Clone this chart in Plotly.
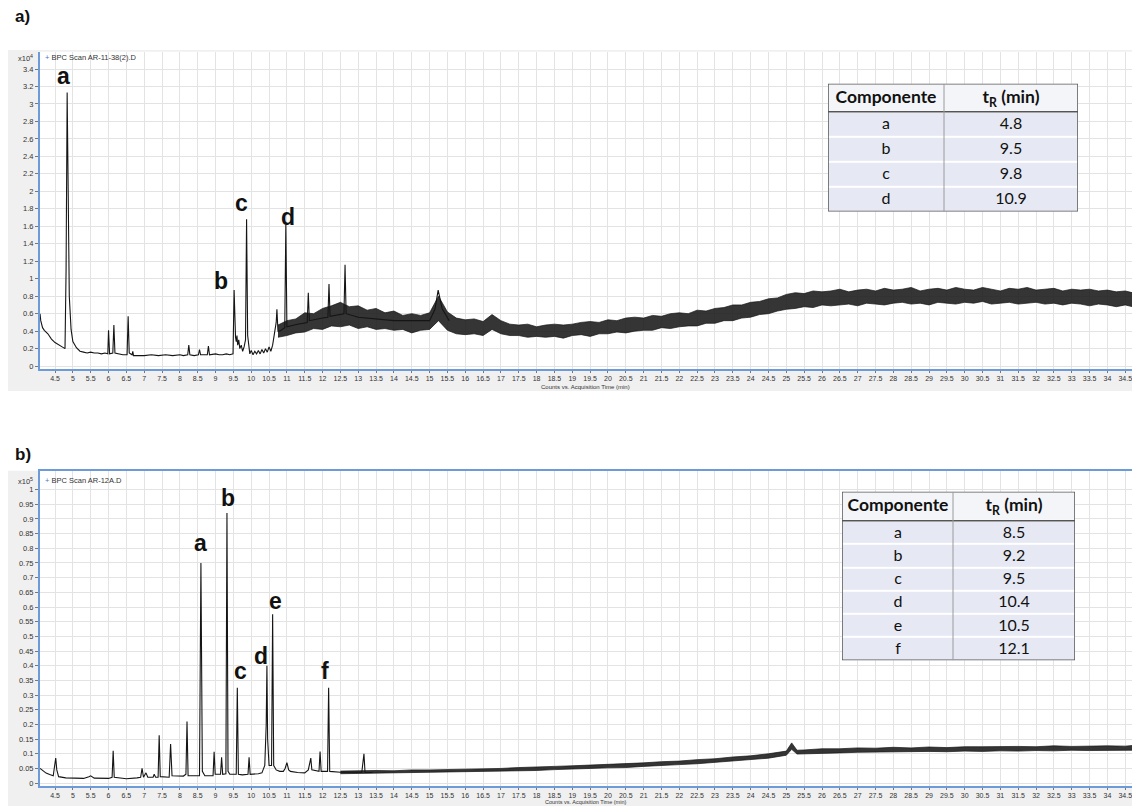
import plotly.graph_objects as go

W, H = 1132, 808

# ---------------- Panel a) chromatogram (x10^4 counts) ----------------
a_time = [4.08, 4.1, 4.15, 4.2, 4.3, 4.4, 4.5, 4.6, 4.7, 4.78, 4.81, 4.84, 4.87, 4.9, 4.95,
          5.0, 5.1, 5.2, 5.3, 5.4, 5.5, 5.6, 5.7, 5.8, 5.9, 5.98, 6.0, 6.03, 6.12, 6.15,
          6.18, 6.3, 6.4, 6.52, 6.55, 6.58, 6.66, 6.68, 6.7, 6.8, 7.0, 7.2, 7.4, 7.6, 7.8,
          8.0, 8.1, 8.22, 8.25, 8.28, 8.4, 8.52, 8.55, 8.58, 8.7, 8.77, 8.8, 8.83, 9.0, 9.1,
          9.2, 9.3, 9.4, 9.49, 9.52, 9.54, 9.56, 9.58, 9.6, 9.62, 9.65, 9.68, 9.72, 9.76, 9.8,
          9.84, 9.87, 9.9, 9.93, 9.96, 10.0, 10.05, 10.1, 10.15, 10.2, 10.25, 10.3, 10.35, 10.4, 10.45,
          10.5, 10.55, 10.6, 10.65, 10.7, 10.72, 10.75, 10.8, 10.94, 10.97, 11.0, 11.3, 11.57, 11.6, 11.63,
          12.0, 12.15, 12.18, 12.21, 12.6, 12.63, 12.66, 13.0, 14.0, 15.0, 15.15, 15.24, 15.35, 15.55]
a_signal = [0.60, 0.52, 0.44, 0.41, 0.37, 0.31, 0.27, 0.24, 0.22, 0.20, 1.10, 3.13, 1.50, 0.80, 0.42,
            0.28, 0.21, 0.17, 0.16, 0.15, 0.16, 0.15, 0.15, 0.14, 0.15, 0.14, 0.41, 0.14, 0.15, 0.47,
            0.15, 0.14, 0.13, 0.13, 0.57, 0.15, 0.13, 0.17, 0.12, 0.12, 0.12, 0.13, 0.12, 0.13, 0.12,
            0.13, 0.12, 0.13, 0.24, 0.13, 0.12, 0.13, 0.19, 0.13, 0.13, 0.13, 0.23, 0.13, 0.14, 0.13,
            0.13, 0.14, 0.13, 0.14, 0.87, 0.40, 0.33, 0.28, 0.35, 0.24, 0.30, 0.20, 0.24, 0.17, 0.22,
            0.30, 1.68, 0.35, 0.20, 0.14, 0.18, 0.13, 0.17, 0.14, 0.18, 0.14, 0.19, 0.15, 0.20, 0.16,
            0.22, 0.17, 0.24, 0.35, 0.50, 0.65, 0.40, 0.40, 0.44, 1.62, 0.45, 0.48, 0.50, 0.84, 0.52,
            0.55, 0.56, 0.94, 0.57, 0.60, 1.16, 0.60, 0.56, 0.52, 0.52, 0.65, 0.87, 0.66, 0.52]

a_band_time = [10.75, 11.0, 11.25, 11.5, 11.75, 12.0, 12.25, 12.5, 12.75, 13.0, 13.25, 13.5, 13.75, 14.0,
               14.25, 14.5, 14.75, 15.0, 15.25, 15.5, 15.75, 16.0, 16.25, 16.5, 16.75, 17.0, 17.25, 17.5,
               17.75, 18.0, 18.25, 18.5, 18.75, 19.0, 19.25, 19.5, 19.75, 20.0, 20.25, 20.5, 20.75, 21.0,
               21.25, 21.5, 21.75, 22.0, 22.25, 22.5, 22.75, 23.0, 23.25, 23.5, 23.75, 24.0, 24.25, 24.5,
               24.75, 25.0, 25.25, 25.5, 25.75, 26.0, 26.25, 26.5, 26.75, 27.0, 27.25, 27.5, 27.75, 28.0,
               28.25, 28.5, 28.75, 29.0, 29.25, 29.5, 29.75, 30.0, 30.25, 30.5, 30.75, 31.0, 31.25, 31.5,
               31.75, 32.0, 32.25, 32.5, 32.75, 33.0, 33.25, 33.5, 33.75, 34.0, 34.25, 34.5, 34.7]
a_band_low = [0.33, 0.35, 0.38, 0.39, 0.43, 0.42, 0.46, 0.45, 0.47, 0.43, 0.45, 0.42, 0.43, 0.41,
              0.42, 0.38, 0.41, 0.42, 0.52, 0.41, 0.37, 0.36, 0.37, 0.35, 0.42, 0.37, 0.35, 0.35,
              0.33, 0.34, 0.33, 0.34, 0.32, 0.35, 0.36, 0.34, 0.37, 0.37, 0.39, 0.38, 0.40, 0.41,
              0.41, 0.44, 0.43, 0.45, 0.46, 0.46, 0.49, 0.49, 0.52, 0.52, 0.55, 0.56, 0.59, 0.60,
              0.63, 0.65, 0.66, 0.68, 0.67, 0.70, 0.69, 0.70, 0.71, 0.69, 0.72, 0.71, 0.70, 0.72,
              0.73, 0.71, 0.72, 0.70, 0.73, 0.72, 0.71, 0.73, 0.72, 0.74, 0.71, 0.72, 0.73, 0.71,
              0.72, 0.73, 0.71, 0.72, 0.70, 0.72, 0.71, 0.69, 0.71, 0.70, 0.68, 0.70, 0.68]
a_band_high = [0.47, 0.52, 0.54, 0.61, 0.60, 0.66, 0.69, 0.73, 0.68, 0.69, 0.64, 0.66, 0.61, 0.63,
               0.58, 0.60, 0.58, 0.61, 0.80, 0.62, 0.55, 0.53, 0.54, 0.51, 0.59, 0.52, 0.48, 0.47,
               0.48, 0.45, 0.47, 0.48, 0.47, 0.48, 0.50, 0.51, 0.50, 0.53, 0.52, 0.55, 0.56, 0.55,
               0.58, 0.57, 0.60, 0.61, 0.60, 0.64, 0.63, 0.66, 0.67, 0.70, 0.70, 0.73, 0.74, 0.77,
               0.78, 0.82, 0.84, 0.83, 0.86, 0.85, 0.86, 0.88, 0.85, 0.87, 0.88, 0.86, 0.89, 0.87,
               0.88, 0.90, 0.86, 0.88, 0.89, 0.87, 0.90, 0.88, 0.87, 0.90, 0.88, 0.86, 0.89, 0.88,
               0.90, 0.87, 0.88, 0.89, 0.86, 0.88, 0.87, 0.88, 0.86, 0.87, 0.85, 0.86, 0.84]

# ---------------- Panel b) chromatogram (x10^5 counts) ----------------
b_time = [4.08, 4.15, 4.25, 4.35, 4.45, 4.49, 4.52, 4.55, 4.6, 4.8, 5.0, 5.3, 5.45, 5.5, 5.6,
          6.0, 6.1, 6.13, 6.16, 6.5, 6.8, 6.9, 6.94, 6.98, 7.05, 7.1, 7.25, 7.28, 7.32, 7.39,
          7.42, 7.45, 7.7, 7.74, 7.78, 8.1, 8.17, 8.2, 8.23, 8.55, 8.59, 8.63, 8.7, 8.93, 8.96,
          8.99, 9.14, 9.17, 9.2, 9.29, 9.32, 9.35, 9.4, 9.58, 9.61, 9.64, 9.75, 9.91, 9.94, 9.97,
          10.2, 10.3, 10.38, 10.42, 10.44, 10.46, 10.5, 10.57, 10.6, 10.63, 10.7, 10.8, 10.9, 10.95, 11.0,
          11.05, 11.1, 11.3, 11.5, 11.6, 11.67, 11.7, 11.9, 11.93, 11.96, 12.14, 12.17, 12.2, 12.5, 13.1,
          13.16, 13.19, 13.4]
b_signal = [0.050, 0.042, 0.034, 0.029, 0.025, 0.060, 0.085, 0.045, 0.022, 0.018, 0.017, 0.016, 0.022, 0.025, 0.017,
            0.016, 0.020, 0.110, 0.020, 0.015, 0.018, 0.020, 0.050, 0.020, 0.035, 0.020, 0.020, 0.030, 0.020, 0.020,
            0.163, 0.022, 0.020, 0.133, 0.025, 0.024, 0.030, 0.210, 0.025, 0.025, 0.750, 0.040, 0.025, 0.025, 0.107,
            0.030, 0.030, 0.088, 0.030, 0.032, 0.920, 0.040, 0.030, 0.030, 0.325, 0.030, 0.028, 0.030, 0.088, 0.030,
            0.032, 0.035, 0.060, 0.200, 0.400, 0.150, 0.060, 0.060, 0.575, 0.060, 0.045, 0.040, 0.040, 0.050, 0.070,
            0.045, 0.040, 0.036, 0.035, 0.045, 0.085, 0.045, 0.040, 0.108, 0.040, 0.040, 0.325, 0.040, 0.037, 0.037,
            0.100, 0.037, 0.036]

b_band_time = [12.5, 13.0, 13.5, 14.0, 14.5, 15.0, 15.5, 16.0, 16.5, 17.0, 17.5, 18.0, 18.5, 19.0, 19.5,
               20.0, 20.5, 21.0, 21.5, 22.0, 22.5, 23.0, 23.5, 24.0, 24.5, 25.0, 25.15, 25.3, 25.5, 26.0,
               26.5, 27.0, 27.5, 28.0, 28.5, 29.0, 29.5, 30.0, 30.5, 31.0, 31.5, 32.0, 32.5, 33.0, 33.5,
               34.0, 34.5, 34.7]
b_band_low = [0.032, 0.033, 0.032, 0.034, 0.035, 0.035, 0.037, 0.038, 0.038, 0.040, 0.042, 0.043, 0.046, 0.047, 0.050,
              0.052, 0.053, 0.057, 0.059, 0.063, 0.066, 0.071, 0.074, 0.080, 0.085, 0.095, 0.115, 0.099, 0.100, 0.103,
              0.103, 0.105, 0.106, 0.105, 0.107, 0.108, 0.107, 0.109, 0.108, 0.110, 0.109, 0.111, 0.110, 0.112, 0.111,
              0.112, 0.113, 0.112]
b_band_high = [0.041, 0.043, 0.043, 0.042, 0.045, 0.045, 0.046, 0.048, 0.048, 0.050, 0.053, 0.054, 0.057, 0.059, 0.061,
               0.064, 0.066, 0.069, 0.073, 0.075, 0.080, 0.083, 0.089, 0.093, 0.100, 0.109, 0.137, 0.112, 0.113, 0.117,
               0.117, 0.120, 0.119, 0.122, 0.120, 0.123, 0.121, 0.124, 0.124, 0.125, 0.125, 0.124, 0.127, 0.125, 0.127,
               0.127, 0.126, 0.128]

assert len(a_time) == len(a_signal)
assert len(a_band_time) == len(a_band_low) == len(a_band_high)
assert len(b_time) == len(b_signal)
assert len(b_band_time) == len(b_band_low) == len(b_band_high)

# peak letters
a_peak_names = ["a", "b", "c", "d"]
a_peak_label_t = [4.73, 9.15, 9.74, 11.03]
a_peak_label_y = [3.32, 0.97, 1.87, 1.71]
b_peak_names = ["a", "b", "c", "d", "e", "f"]
b_peak_label_t = [8.57, 9.35, 9.71, 10.28, 10.67, 12.07]
b_peak_label_y = [0.817, 0.97, 0.383, 0.434, 0.62, 0.383]

# tables
tab_header = ["<span style='font-size:17.5px'><b>Componente</b></span>",
              "<span style='font-size:17.5px'><b>t<sub>R</sub> (min)</b></span>"]
a_tab_comp = ["a", "b", "c", "d"]
a_tab_tr = ["4.8", "9.5", "9.8", "10.9"]
b_tab_comp = ["a", "b", "c", "d", "e", "f"]
b_tab_tr = ["8.5", "9.2", "9.5", "10.4", "10.5", "12.1"]

# tick labels
x_tick_labels = ["4.5", "5", "5.5", "6", "6.5", "7", "7.5", "8", "8.5", "9", "9.5", "10", "10.5", "11",
                 "11.5", "12", "12.5", "13", "13.5", "14", "14.5", "15", "15.5", "16", "16.5", "17",
                 "17.5", "18", "18.5", "19", "19.5", "20", "20.5", "21", "21.5", "22", "22.5", "23",
                 "23.5", "24", "24.5", "25", "25.5", "26", "26.5", "27", "27.5", "28", "28.5", "29",
                 "29.5", "30", "30.5", "31", "31.5", "32", "32.5", "33", "33.5", "34", "34.5"]
a_y_tick_labels = ["0", "0.2", "0.4", "0.6", "0.8", "1", "1.2", "1.4", "1.6", "1.8", "2", "2.2",
                   "2.4", "2.6", "2.8", "3", "3.2", "3.4"]
b_y_tick_labels = ["0", "0.05", "0.1", "0.15", "0.2", "0.25", "0.3", "0.35", "0.4", "0.45", "0.5",
                   "0.55", "0.6", "0.65", "0.7", "0.75", "0.8", "0.85", "0.9", "0.95", "1"]

x_tick_vals = [float(v) for v in x_tick_labels]
a_y_tick_vals = [float(v) for v in a_y_tick_labels]
b_y_tick_vals = [float(v) for v in b_y_tick_labels]

# ---------------- figure ----------------
LINE = "#151515"
BLUE = "#6d9ad8"
GRID = "#e3e3e3"
FONT = "Liberation Sans"


def px_x(p):
    return p / W


def px_y(p):
    return 1 - p / H


fig = go.Figure()

for xa, ya, bt, bl, bh, st, sv in [("x", "y", a_band_time, a_band_low, a_band_high, a_time, a_signal),
                                   ("x2", "y2", b_band_time, b_band_low, b_band_high, b_time, b_signal)]:
    fig.add_trace(go.Scatter(x=bt, y=bl, mode="lines", line=dict(color=LINE, width=0.7),
                             xaxis=xa, yaxis=ya, showlegend=False, hoverinfo="skip"))
    fig.add_trace(go.Scatter(x=bt, y=bh, mode="lines", line=dict(color=LINE, width=0.7),
                             fill="tonexty", fillcolor="rgba(25,25,25,0.88)",
                             xaxis=xa, yaxis=ya, showlegend=False, hoverinfo="skip"))
    fig.add_trace(go.Scatter(x=st, y=sv, mode="lines", line=dict(color=LINE, width=1.1),
                             xaxis=xa, yaxis=ya, showlegend=False))

# tables, drawn as heatmaps of cells on their own small axes
a_col_edges = [0, 116, 250]
a_row_edges = [0, 28, 53, 78, 103, 128]
b_col_edges = [0, 111, 233]
b_row_edges = [0, 29, 52.3, 75.7, 99, 122.3, 145.7, 169]

for xa, ya, comp, tr, ce, re_ in [("x3", "y3", a_tab_comp, a_tab_tr, a_col_edges, a_row_edges),
                                  ("x4", "y4", b_tab_comp, b_tab_tr, b_col_edges, b_row_edges)]:
    text = [tab_header] + [[c, t] for c, t in zip(comp, tr)]
    z = [[0, 0]] + [[1, 1] for _ in comp]
    fig.add_trace(go.Heatmap(x=ce, y=re_, z=z, text=text, texttemplate="%{text}",
                             textfont=dict(family="Lato", size=16, color="#111111"),
                             colorscale=[[0, "#f4f5f9"], [1, "#e6e9f3"]], zmin=0, zmax=1,
                             showscale=False, xgap=0, ygap=2, hoverinfo="skip",
                             xaxis=xa, yaxis=ya))

xaxis_common = dict(range=[4.079, 34.69], tickmode="array", tickvals=x_tick_vals, ticktext=x_tick_labels,
                    tickfont=dict(family=FONT, size=7, color="#333333"), ticks="outside", ticklen=2,
                    tickcolor="#777777", showgrid=True, gridcolor=GRID, gridwidth=1, zeroline=False,
                    showline=True, linecolor=BLUE, linewidth=2, fixedrange=True,
                    ticklabeloverflow="allow")
yaxis_common = dict(tickmode="array", tickfont=dict(family=FONT, size=7.5, color="#333333"),
                    ticks="outside", ticklen=3, tickcolor="#777777", showgrid=True, gridcolor=GRID,
                    gridwidth=1, zeroline=False, showline=True, linecolor=BLUE, linewidth=2)
hidden = dict(showgrid=False, zeroline=False, showline=False, showticklabels=False, ticks="",
              fixedrange=True)

fig.update_layout(
    width=W, height=H, autosize=False,
    margin=dict(l=0, r=0, t=0, b=0, pad=0),
    paper_bgcolor="white", plot_bgcolor="white",
    showlegend=False,
    xaxis=dict(domain=[px_x(40), 1.0], anchor="y", **xaxis_common),
    yaxis=dict(domain=[px_y(370), px_y(52)], anchor="x", range=[-0.034, 3.596],
               tickvals=a_y_tick_vals, ticktext=a_y_tick_labels, **yaxis_common),
    xaxis2=dict(domain=[px_x(40), 1.0], anchor="y2", mirror=True, **xaxis_common),
    yaxis2=dict(domain=[px_y(788), px_y(472)], anchor="x2", range=[-0.01, 1.064],
                tickvals=b_y_tick_vals, ticktext=b_y_tick_labels, **yaxis_common),
    xaxis3=dict(domain=[px_x(828), px_x(1078)], anchor="y3", range=[0, 250], **hidden),
    yaxis3=dict(domain=[px_y(212), px_y(84)], anchor="x3", range=[128, 0], **hidden),
    xaxis4=dict(domain=[px_x(842), px_x(1075)], anchor="y4", range=[0, 233], **hidden),
    yaxis4=dict(domain=[px_y(662), px_y(493)], anchor="x4", range=[169, 0], **hidden),
)

shapes = [
    dict(type="rect", xref="paper", yref="paper", x0=px_x(8), x1=1, y0=px_y(392), y1=px_y(50),
         fillcolor="#f0f0f0", line=dict(width=0), layer="below"),
    dict(type="rect", xref="paper", yref="paper", x0=px_x(40), x1=1, y0=px_y(370), y1=px_y(52),
         fillcolor="white", line=dict(width=0), layer="below"),
    dict(type="rect", xref="paper", yref="paper", x0=px_x(8), x1=1, y0=0, y1=px_y(472),
         fillcolor="#f0f0f0", line=dict(width=0), layer="below"),
    dict(type="rect", xref="paper", yref="paper", x0=px_x(40), x1=1, y0=px_y(788), y1=px_y(472),
         fillcolor="white", line=dict(width=0), layer="below"),
]
for xa, ya, ce, re_ in [("x3", "y3", a_col_edges, a_row_edges), ("x4", "y4", b_col_edges, b_row_edges)]:
    shapes.append(dict(type="rect", xref=xa, yref=ya, x0=ce[0], x1=ce[-1], y0=re_[0], y1=re_[-1],
                       line=dict(color="#555555", width=1.5), layer="above"))
    shapes.append(dict(type="line", xref=xa, yref=ya, x0=ce[0], x1=ce[-1], y0=re_[1], y1=re_[1],
                       line=dict(color="#555555", width=1.5), layer="above"))
    shapes.append(dict(type="line", xref=xa, yref=ya, x0=ce[1], x1=ce[1], y0=re_[0], y1=re_[-1],
                       line=dict(color="#9a9a9a", width=1), layer="above"))
fig.update_layout(shapes=shapes)

ann = []
small = dict(family=FONT, size=7.5, color="#333333")
ann.append(dict(text="<b>a)</b>", x=px_x(13), y=px_y(17), xref="paper", yref="paper",
                xanchor="left", yanchor="middle", showarrow=False,
                font=dict(family=FONT, size=17, color="#111111")))
ann.append(dict(text="<b>b)</b>", x=px_x(13), y=px_y(456), xref="paper", yref="paper",
                xanchor="left", yanchor="middle", showarrow=False,
                font=dict(family=FONT, size=17, color="#111111")))
for ytop, lab, name in [(58, "x10<sup>4</sup>", "BPC Scan AR-11-38(2).D"),
                        (482, "x10<sup>5</sup>", "BPC Scan AR-12A.D")]:
    ann.append(dict(text=lab, x=px_x(35), y=px_y(ytop), xref="paper", yref="paper",
                    xanchor="right", yanchor="middle", showarrow=False, font=small))
    ann.append(dict(text="<span style='color:#4a7bc8'>+</span> " + name, x=px_x(43), y=px_y(ytop),
                    xref="paper", yref="paper", xanchor="left", yanchor="middle",
                    showarrow=False, font=small))
ann.append(dict(text="Counts vs. Acquisition Time (min)", x=px_x(585), y=px_y(387.5), xref="paper",
                yref="paper", xanchor="center", yanchor="middle", showarrow=False,
                font=dict(family=FONT, size=6, color="#333333")))
ann.append(dict(text="Counts vs. Acquisition Time (min)", x=px_x(585), y=0, xref="paper",
                yref="paper", xanchor="center", yanchor="bottom", showarrow=False, borderpad=0,
                font=dict(family=FONT, size=5.5, color="#333333")))
peak_font = dict(family=FONT, size=23, color="#111111")
for names, ts, ys, xr, yr in [(a_peak_names, a_peak_label_t, a_peak_label_y, "x", "y"),
                              (b_peak_names, b_peak_label_t, b_peak_label_y, "x2", "y2")]:
    for n, t, v in zip(names, ts, ys):
        ann.append(dict(text="<b>" + n + "</b>", x=t, y=v, xref=xr, yref=yr, showarrow=False,
                        xanchor="center", yanchor="middle", font=peak_font))
fig.update_layout(annotations=ann)

fig.write_html("out.html")
